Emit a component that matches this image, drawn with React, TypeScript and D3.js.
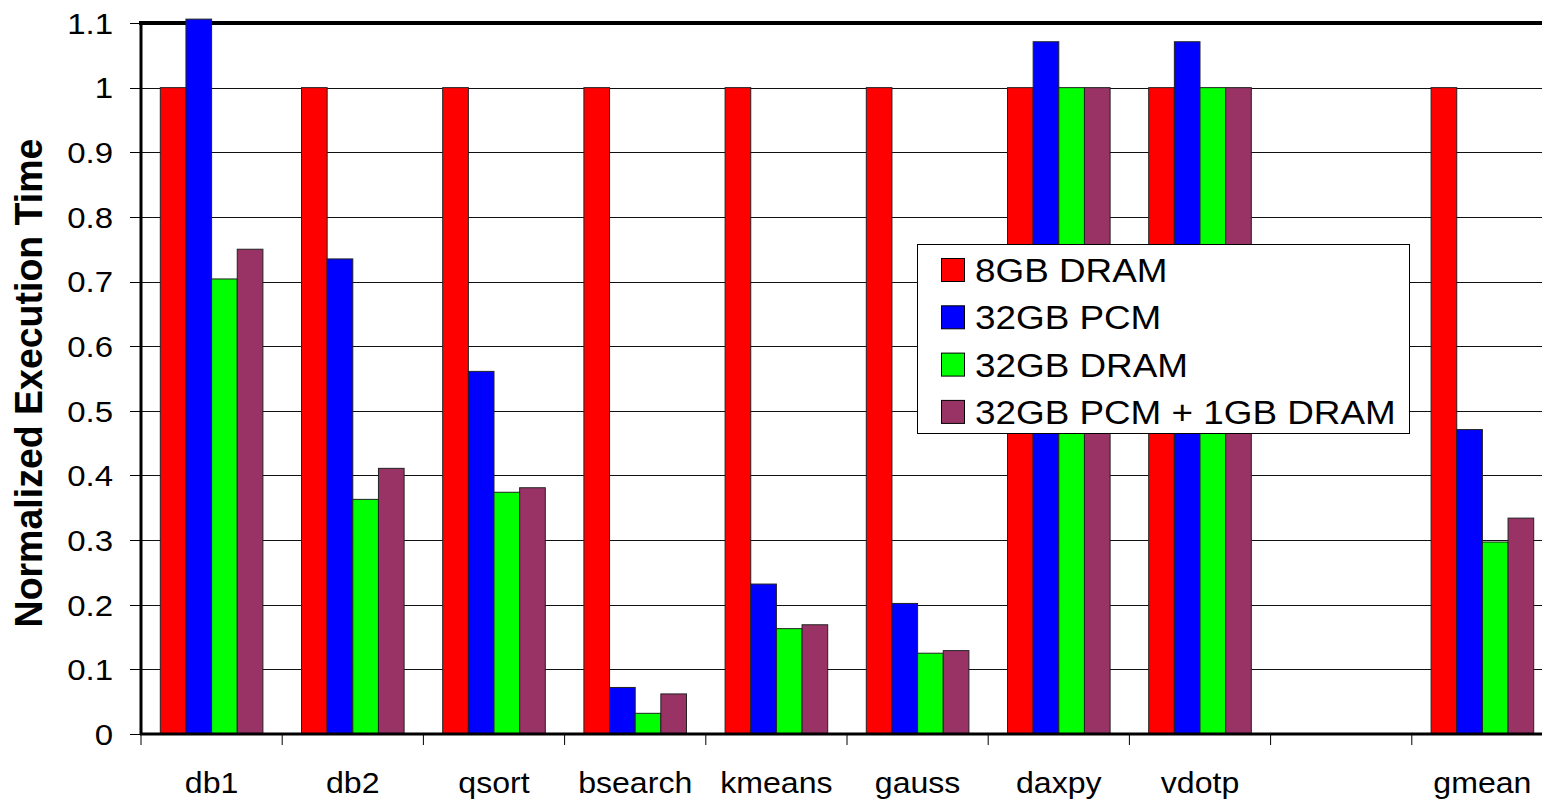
import React from "react";
import * as d3 from "d3";

const categories = ["db1", "db2", "qsort", "bsearch", "kmeans", "gauss", "daxpy", "vdotp", "", "gmean"];
const seriesNames = ["8GB DRAM", "32GB PCM", "32GB DRAM", "32GB PCM + 1GB DRAM"];
const seriesColors = ["#ff0000", "#0000ff", "#00ff00", "#993366"];
const dram8 = [1, 1, 1, 1, 1, 1, 1, 1, null, 1];
const pcm32 = [1.106, 0.735, 0.561, 0.072, 0.232, 0.202, 1.071, 1.071, null, 0.471];
const dram32 = [0.704, 0.363, 0.374, 0.032, 0.163, 0.125, 1, 1, null, 0.297];
const pcmDram = [0.75, 0.411, 0.381, 0.062, 0.169, 0.129, 1, 1, null, 0.334];
const yTicks = [0, 0.1, 0.2, 0.3, 0.4, 0.5, 0.6, 0.7, 0.8, 0.9, 1, 1.1];

const seriesValues = [dram8, pcm32, dram32, pcmDram];

const W = 1542;
const H = 801;
const left = 141;
const right = 1553;
const top = 23;
const bottom = 734;
const FONT = "'Liberation Sans', Arial, Helvetica, sans-serif";

export default function App() {
  const catKeys = categories.map((c, i) => `${i}:${c}`);
  const x0 = d3.scaleBand<string>().domain(catKeys).range([left, right]).padding(0);
  const bw = x0.bandwidth();
  const groupPad = 19.3;
  const x1 = d3.scaleBand<number>().domain([0, 1, 2, 3]).range([groupPad, bw - groupPad]).padding(0);
  const y = d3.scaleLinear().domain([0, 1.1]).range([bottom, top]);

  const boundaries = catKeys.map((k) => x0(k) as number).concat([right]);

  return (
    <svg width={W} height={H} style={{ position: "absolute", left: 0, top: 0, background: "#fff" }} fontFamily={FONT}>
      {/* gridlines */}
      {yTicks.filter((t) => t > 0 && t < 1.05).map((t) => (
        <line key={"g" + t} x1={left} x2={right} y1={Math.round(y(t)) + 0.5} y2={Math.round(y(t)) + 0.5} stroke="#111" strokeWidth={1} />
      ))}
      {/* top frame line */}
      <line x1={left - 2} x2={right} y1={y(1.1)} y2={y(1.1)} stroke="#000" strokeWidth={4} />
      {/* y ticks and labels */}
      {yTicks.map((t) => (
        <g key={"t" + t}>
          <line x1={left - 11} x2={left} y1={Math.round(y(t)) + 0.5} y2={Math.round(y(t)) + 0.5} stroke="#000" strokeWidth={1} />
          <text transform={`translate(113,${y(t)}) scale(1.1,1)`} dy="0.36em" textAnchor="end" fontSize={30} fill="#000">{d3.format("")(t)}</text>
        </g>
      ))}
      {/* bars */}
      {catKeys.map((k, ci) => (
        <g key={k} transform={`translate(${x0(k)},0)`}>
          {seriesValues.map((vals, si) => {
            const v = vals[ci];
            if (v == null) return null;
            return (
              <rect key={si} x={x1(si)} y={y(v)} width={x1.bandwidth()} height={y(0) - y(v)} fill={seriesColors[si]} stroke="#222" strokeWidth={1} />
            );
          })}
        </g>
      ))}
      {/* axes */}
      <line x1={left} x2={left} y1={top - 2} y2={bottom + 1} stroke="#000" strokeWidth={3} />
      <line x1={left - 1} x2={right} y1={bottom} y2={bottom} stroke="#000" strokeWidth={3} />
      {boundaries.map((b, i) => (
        <line key={"xt" + i} x1={b} x2={b} y1={bottom} y2={bottom + 11} stroke="#000" strokeWidth={1} />
      ))}
      {catKeys.map((k, i) => (
        <text key={"xl" + k} transform={`translate(${(x0(k) as number) + bw / 2},793) scale(1.07,1)`} textAnchor="middle" fontSize={30} fill="#000">{categories[i]}</text>
      ))}
      {/* y title */}
      <text transform={`translate(42,383) scale(1.05,1) rotate(-90)`} textAnchor="middle" fontSize={37.5} fontWeight="bold" fill="#000">Normalized Execution Time</text>
      {/* legend */}
      <g>
        <rect x={917.5} y={244.5} width={492} height={189} fill="#fff" stroke="#000" strokeWidth={1} />
        {seriesNames.map((n, i) => (
          <g key={n} transform={`translate(941,${270 + i * 47.3})`}>
            <rect x={0.5} y={-11.5} width={23} height={23} fill={seriesColors[i]} stroke="#000" strokeWidth={1} />
            <text transform={`translate(34,0) scale(1.1,1)`} dy="0.36em" fontSize={33.5} fill="#000">{n}</text>
          </g>
        ))}
      </g>
    </svg>
  );
}
